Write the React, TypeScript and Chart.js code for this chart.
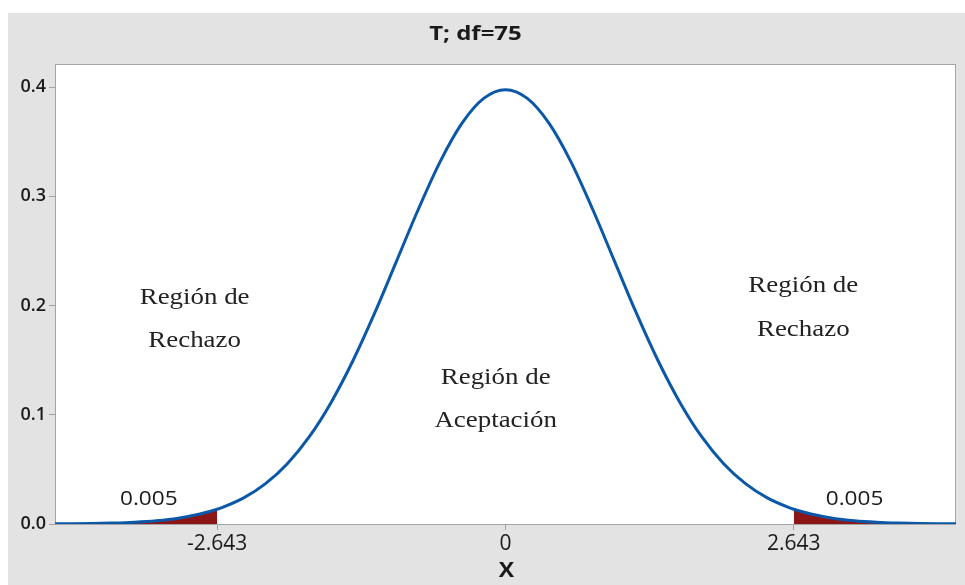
import React, { useEffect, useRef } from "react";
import { Chart, registerables } from "chart.js";

Chart.register(...registerables);

// ---- Data ----
const titleText = "T; df=75";
const xAxisTitle = "X";
const criticalValue = 2.643;
const tailLabel = "0.005";

const tValues = [
  -4.13, -4.0, -3.8, -3.6, -3.4, -3.2, -3.0, -2.8, -2.643, -2.6, -2.4, -2.2, -2.0,
  -1.8, -1.6, -1.4, -1.2, -1.0, -0.8, -0.6, -0.4, -0.2, 0.0, 0.2, 0.4, 0.6, 0.8,
  1.0, 1.2, 1.4, 1.6, 1.8, 2.0, 2.2, 2.4, 2.6, 2.643, 2.8, 3.0, 3.2, 3.4, 3.6, 3.8,
  4.0, 4.13,
];
const density = [
  0.00016, 0.00026, 0.00049, 0.00093, 0.00171, 0.00307, 0.00536, 0.00909, 0.01349,
  0.01497, 0.0239, 0.0369, 0.0552, 0.0797, 0.1111, 0.1492, 0.193, 0.2404, 0.2879,
  0.3315, 0.3667, 0.3896, 0.3976, 0.3896, 0.3667, 0.3315, 0.2879, 0.2404, 0.193,
  0.1492, 0.1111, 0.0797, 0.0552, 0.0369, 0.0239, 0.01497, 0.01349, 0.00909,
  0.00536, 0.00307, 0.00171, 0.00093, 0.00049, 0.00026, 0.00016,
];

const xTicks = [-2.643, 0, 2.643];
const xTickLabels = ["-2.643", "0", "2.643"];
const yTicks = [0, 0.1, 0.2, 0.3, 0.4];
const xMin = -4.13;
const xMax = 4.13;
const yMin = 0;
const yMax = 0.4211;

// text annotations (data coordinates)
const annotationTexts = [
  "Región de", "Rechazo",
  "Región de", "Rechazo",
  "Región de", "Aceptación",
];
const annotationX = [-2.85, -2.85, 2.73, 2.73, -0.09, -0.09];
const annotationY = [0.207, 0.168, 0.218, 0.178, 0.134, 0.0945];
const tailLabelX = [-3.27, 3.2];
const tailLabelY = [0.023, 0.023];

const CURVE_COLOR = "#0B58A8";
const TAIL_COLOR = "#8C1515";
const BG_GRAY = "#E3E3E3";
const FRAME_GRAY = "#A3A3A3";
const SANS = "'Open Sans', 'Noto Sans', sans-serif";
const SERIF = "'Liberation Serif', 'DejaVu Serif', serif";

function stretchedText(ctx: CanvasRenderingContext2D, text: string, x: number, y: number, sx: number) {
  ctx.save();
  ctx.translate(x, y);
  ctx.scale(sx, 1);
  ctx.fillText(text, 0, 0);
  ctx.restore();
}

export default function App() {
  const canvasRef = useRef<HTMLCanvasElement | null>(null);

  useEffect(() => {
    if (!canvasRef.current) return;

    const curve = tValues.map((x, i) => ({ x, y: density[i] }));
    const leftTail = curve.filter((p) => p.x <= -criticalValue + 1e-9);
    const rightTail = curve.filter((p) => p.x >= criticalValue - 1e-9);

    const decorPlugin = {
      id: "decor",
      beforeDraw(chart: any) {
        const { ctx, chartArea } = chart;
        ctx.save();
        ctx.fillStyle = BG_GRAY;
        ctx.fillRect(0, 0, chart.width, chart.height);
        ctx.fillStyle = "#FFFFFF";
        ctx.fillRect(chartArea.left, chartArea.top, chartArea.right - chartArea.left, chartArea.bottom - chartArea.top);
        ctx.restore();
      },
      beforeDatasetsDraw(chart: any) {
        const { ctx, chartArea } = chart;
        ctx.save();
        ctx.strokeStyle = FRAME_GRAY;
        ctx.lineWidth = 1;
        ctx.strokeRect(chartArea.left + 0.5, chartArea.top + 0.5, chartArea.right - chartArea.left - 1, chartArea.bottom - chartArea.top);
        ctx.restore();
      },
      afterDatasetsDraw(chart: any) {
        const { ctx, chartArea, scales } = chart;
        const xs = scales.x;
        const ys = scales.y;
        ctx.save();
        ctx.textAlign = "center";
        ctx.textBaseline = "middle";
        // title
        ctx.fillStyle = "#1A1A1A";
        ctx.font = `bold 20px ${SANS}`;
        stretchedText(ctx, titleText, (chartArea.left + chartArea.right) / 2 - 30, 21, 1.2);
        // x axis title
        ctx.font = `bold 21px ${SANS}`;
        stretchedText(ctx, xAxisTitle, (chartArea.left + chartArea.right) / 2 + 1, chartArea.bottom + 47, 1.1);
        // region annotations
        ctx.fillStyle = "#222222";
        ctx.font = `23px ${SERIF}`;
        annotationTexts.forEach((t, i) => {
          stretchedText(ctx, t, xs.getPixelForValue(annotationX[i]), ys.getPixelForValue(annotationY[i]), 1.17);
        });
        // tail probabilities
        ctx.fillStyle = "#1A1A1A";
        ctx.font = `20px ${SANS}`;
        tailLabelX.forEach((x, i) => {
          stretchedText(ctx, tailLabel, xs.getPixelForValue(x), ys.getPixelForValue(tailLabelY[i]), 1.13);
        });
        ctx.restore();
      },
    };

    const chart = new Chart(canvasRef.current, {
      type: "line",
      data: {
        datasets: [
          {
            data: curve,
            borderColor: CURVE_COLOR,
            borderWidth: 3,
            pointRadius: 0,
            fill: false,
            cubicInterpolationMode: "monotone",
            order: 0,
          },
          {
            data: leftTail,
            borderWidth: 0,
            borderColor: "rgba(0,0,0,0)",
            backgroundColor: TAIL_COLOR,
            pointRadius: 0,
            fill: "origin",
            cubicInterpolationMode: "monotone",
            order: 1,
          },
          {
            data: rightTail,
            borderWidth: 0,
            borderColor: "rgba(0,0,0,0)",
            backgroundColor: TAIL_COLOR,
            pointRadius: 0,
            fill: "origin",
            cubicInterpolationMode: "monotone",
            order: 1,
          },
        ],
      },
      options: {
        animation: false,
        responsive: false,
        layout: { padding: { top: 51, right: 9, left: 0, bottom: 0 } },
        plugins: {
          legend: { display: false },
          tooltip: { enabled: false },
          title: { display: false },
        },
        scales: {
          x: {
            type: "linear",
            min: xMin,
            max: xMax,
            afterBuildTicks: (axis: any) => {
              axis.ticks = xTicks.map((v) => ({ value: v }));
            },
            afterFit: (axis: any) => {
              axis.height = 61;
            },
            ticks: {
              autoSkip: false,
              maxRotation: 0,
              padding: 1,
              color: "#1A1A1A",
              font: { family: SANS, size: 21 },
              callback: (value: any) => {
                const idx = xTicks.findIndex((t) => Math.abs(t - Number(value)) < 1e-6);
                return idx >= 0 ? xTickLabels[idx] : "";
              },
            },
            grid: { display: true, drawOnChartArea: false, drawTicks: true, tickLength: 6, color: FRAME_GRAY },
            border: { display: false },
          },
          y: {
            type: "linear",
            min: yMin,
            max: yMax,
            afterBuildTicks: (axis: any) => {
              axis.ticks = yTicks.map((v) => ({ value: v }));
            },
            afterFit: (axis: any) => {
              axis.width = 47;
            },
            ticks: {
              padding: 3,
              color: "#1A1A1A",
              font: { family: SANS, size: 18, weight: "600" },
              callback: (value: any) => Number(value).toFixed(1),
            },
            grid: { display: true, drawOnChartArea: false, drawTicks: true, tickLength: 6, color: FRAME_GRAY },
            border: { display: false },
          },
        },
      },
      plugins: [decorPlugin],
    } as any);

    return () => chart.destroy();
  }, []);

  return (
    <div style={{ position: "fixed", left: 8, top: 13, width: 957, height: 572 }}>
      <canvas ref={canvasRef} width={957} height={572} style={{ display: "block", width: 957, height: 572 }} />
    </div>
  );
}
